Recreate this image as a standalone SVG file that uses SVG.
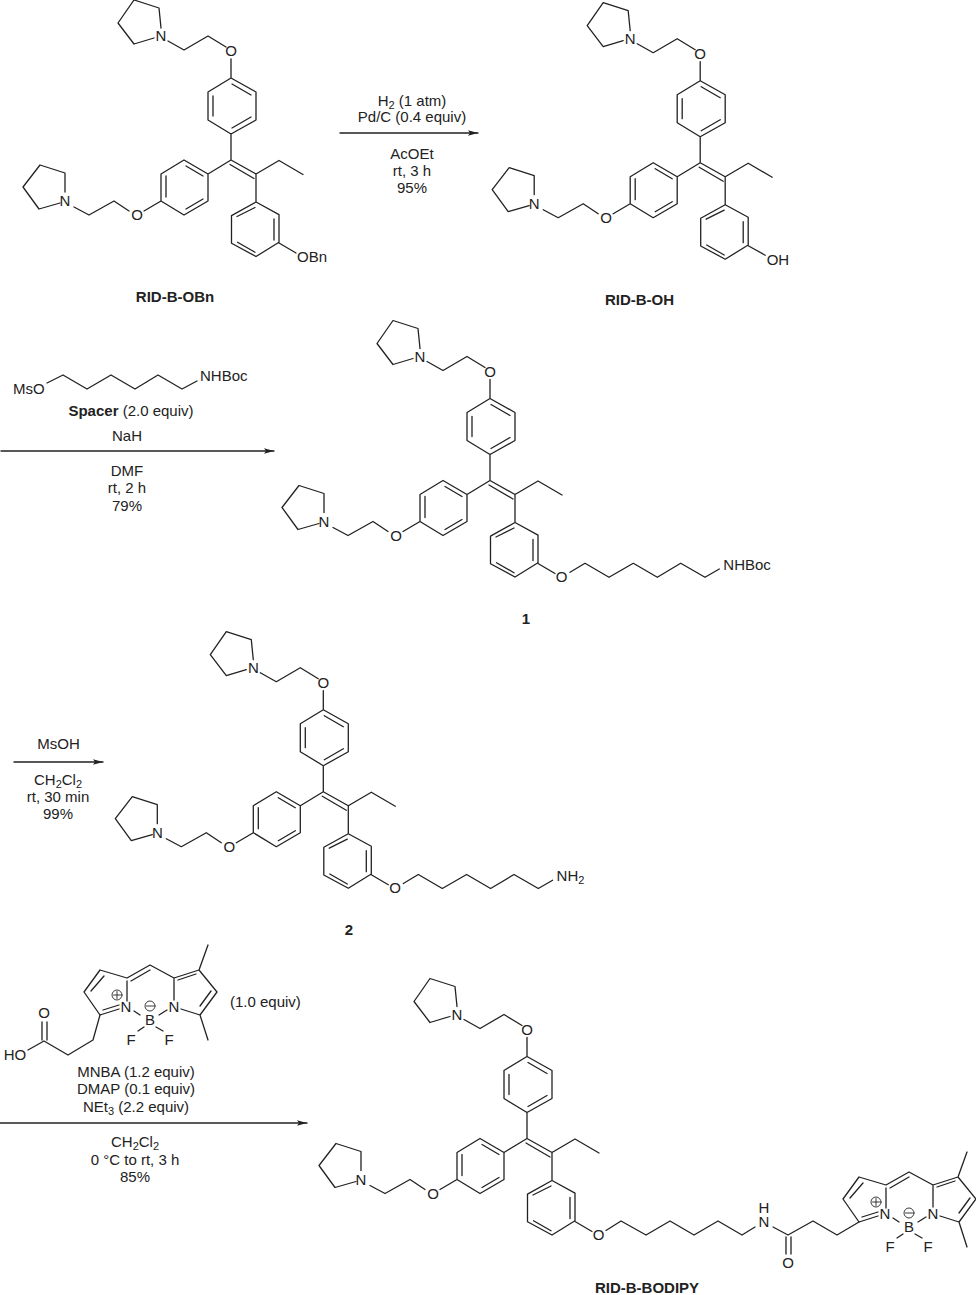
<svg xmlns="http://www.w3.org/2000/svg" xmlns:xlink="http://www.w3.org/1999/xlink" width="976" height="1295" viewBox="0 0 976 1295">
<style>
text{font-family:"Liberation Sans",Arial,sans-serif;font-size:15px;fill:#222;text-anchor:middle}
.b{font-weight:bold}
.s{text-anchor:start}
.sub{font-size:11px}
.bond{fill:none;stroke:#222;stroke-width:1.3;stroke-linecap:round;stroke-linejoin:round}
.thin{fill:none;stroke:#222;stroke-width:.9}
</style>
<defs>
<marker id="head" markerUnits="userSpaceOnUse" markerWidth="11" markerHeight="8" refX="10" refY="4" orient="auto"><path d="M0 1.300L10 4L0 6.700L2 4Z" fill="#222"/></marker>
<path id="core" class="bond" d="M154 38L134 44L118 23L134 0L159 8L161 28M168 41L184 50L208 36L226 47M231 59V78L256 92V120L231 134L208 120V92L231 78M232 84L251 95M213 96V116M232 128L251 117M231 134V160L256 174L279 160.500L303 174.500M230 164.500L254 178.500M256 174V202L279 214.600V242.300L256 256.500L231.500 243.300V215.600L256 202M274 219V240M237.500 242.300L255 252.300M237 216.500L255 207.500M231 160L208 174V201L184 215L161 201V174L184 160L208 174M186 166L203 176M186 209L203 199M166 176V197M161 201L144 211M129 211L114 201L89 215L74 207M60 203L39 209L23 187L40 165L65 173L65 192"/>
<g id="bodipy-bonds" class="bond">
<path d="M859 1222L843 1199L859 1177L886 1185L909 1172L933 1185L958 1177L976 1199L959 1222L940 1216M862 1217L878 1212M859 1222L878 1216M850 1198L863 1183M886 1188V1208M890 1188L909 1177M933 1185V1207M937 1187L955 1181M958 1177L967 1152M959 1213L970 1198M959 1222L967 1247M893 1218L899 1222M918 1222L926 1217M903 1234L897 1238M915 1234L922 1238"/>
<circle class="thin" cx="876" cy="1202" r="5"/><path class="thin" d="M872.500 1202H879.500M876 1198.500V1205.500"/>
<circle class="thin" cx="909" cy="1213" r="5"/><path class="thin" d="M905.500 1213H912.500"/>
</g>
</defs>

<g id="connectors">
<path class="bond" marker-end="url(#head)" d="M340 133H478"/>
<path class="bond" marker-end="url(#head)" d="M1 451H274"/>
<path class="bond" marker-end="url(#head)" d="M14 762H103"/>
<path class="bond" marker-end="url(#head)" d="M0 1123H307"/>
</g>

<g id="rid-b-obn">
<use href="#core" xlink:href="#core"/>
<path class="bond" d="M279 243L296 253"/>
<text x="161" y="41">N</text><text x="231" y="56">O</text><text x="65" y="206">N</text><text x="137" y="220">O</text>
<text class="s" x="297" y="262">OBn</text>
<text class="b" x="175" y="302">RID-B-OBn</text>
</g>

<g id="rid-b-oh" transform="translate(469.200 2.700)">
<use href="#core" xlink:href="#core"/>
<path class="bond" d="M279 243L296 252.500"/>
<text x="161" y="41">N</text><text x="231" y="56">O</text><text x="65" y="206">N</text><text x="137" y="220">O</text>
<text class="s" x="297.500" y="262">OH</text>
<text class="b" x="170.300" y="302.300">RID-B-OH</text>
</g>

<g id="compound-1" transform="translate(259 320.500)">
<use href="#core" xlink:href="#core"/>
<path class="bond" d="M279 243L296 253M311 251.800L326 242.800L350 256.800L374.300 242.800L398.300 256.800L421.700 242.800L446 256.800L460.300 248.500"/>
<text x="161" y="41">N</text><text x="231" y="56">O</text><text x="65" y="206">N</text><text x="137" y="220">O</text>
<text x="302.700" y="261.500">O</text>
<text class="s" x="464.300" y="249.500">NHBoc</text>
<text class="b" x="267" y="303.500">1</text>
</g>

<g id="compound-2" transform="translate(92.300 631.700)">
<use href="#core" xlink:href="#core"/>
<path class="bond" d="M279 243L296 253M311 251.800L326 242.800L350 256.800L374.300 242.800L398.300 256.800L421.700 242.800L446 256.800L460.300 248.500"/>
<text x="161" y="41">N</text><text x="231" y="56">O</text><text x="65" y="206">N</text><text x="137" y="220">O</text>
<text x="302.700" y="261.500">O</text>
<text class="s" x="464.300" y="249.500">NH<tspan class="sub" dy="3">2</tspan></text>
<text class="b" x="256.700" y="303.300">2</text>
</g>

<g id="rid-b-bodipy">
<g transform="translate(296 978.500)">
<use href="#core" xlink:href="#core"/>
<text x="161" y="41">N</text><text x="231" y="56">O</text><text x="65" y="206">N</text><text x="137" y="220">O</text>
<path class="bond" d="M279 243L296 253"/>
<text x="302.500" y="261.500">O</text>
</g>
<path class="bond" d="M606 1230.500L621 1221L646 1235L670 1221L694 1235L718 1221L742 1235L755 1227M773 1227L788 1235L813 1221L837 1235L859 1222M786 1237V1254M791 1237V1254"/>
<text x="764" y="1227">N</text><text x="764" y="1213">H</text><text x="788" y="1268">O</text>
<use href="#bodipy-bonds" xlink:href="#bodipy-bonds"/>
<text x="885" y="1219">N</text><text x="933" y="1219">N</text><text x="909" y="1232">B</text><text x="890" y="1252">F</text><text x="928" y="1252">F</text>
<text class="b" x="647" y="1293">RID-B-BODIPY</text>
</g>

<g id="spacer">
<path class="bond" d="M47 383L63 375L87 389L111 375L135 389L158 375L182 389L197 381"/>
<text class="s" x="13" y="394">MsO</text>
<text class="s" x="200" y="381">NHBoc</text>
</g>

<g id="bodipy-acid">
<g transform="translate(-759 -207)">
<use href="#bodipy-bonds" xlink:href="#bodipy-bonds"/>
<text x="885" y="1219">N</text><text x="933" y="1219">N</text><text x="909" y="1232">B</text><text x="890" y="1252">F</text><text x="928" y="1252">F</text>
</g>
<path class="bond" d="M100 1015L93 1040L68 1055L44 1041L28 1050M42 1022V1040M47 1022V1040"/>
<text x="44" y="1018">O</text>
<text x="15" y="1060">HO</text>
</g>

<g id="conditions">
<text x="412" y="106">H<tspan class="sub" dy="3">2</tspan><tspan dy="-3"> (1 atm)</tspan></text>
<text x="412" y="122">Pd/C (0.4 equiv)</text>
<text x="412" y="159">AcOEt</text>
<text x="412" y="176">rt, 3 h</text>
<text x="412" y="193">95%</text>

<text x="131" y="416"><tspan class="b">Spacer</tspan> (2.0 equiv)</text>
<text x="127" y="441">NaH</text>
<text x="127" y="476">DMF</text>
<text x="127" y="493">rt, 2 h</text>
<text x="127" y="511">79%</text>

<text x="58.500" y="749">MsOH</text>
<text x="58" y="784.500">CH<tspan class="sub" dy="3">2</tspan><tspan dy="-3">Cl</tspan><tspan class="sub" dy="3">2</tspan></text>
<text x="58" y="802">rt, 30 min</text>
<text x="58" y="819">99%</text>

<text class="s" x="230" y="1007">(1.0 equiv)</text>
<text x="136" y="1077">MNBA (1.2 equiv)</text>
<text x="136" y="1094">DMAP (0.1 equiv)</text>
<text x="136" y="1112">NEt<tspan class="sub" dy="3">3</tspan><tspan dy="-3"> (2.2 equiv)</tspan></text>
<text x="135" y="1147">CH<tspan class="sub" dy="3">2</tspan><tspan dy="-3">Cl</tspan><tspan class="sub" dy="3">2</tspan></text>
<text x="135" y="1165">0 °C to rt, 3 h</text>
<text x="135" y="1182">85%</text>
</g>
</svg>
